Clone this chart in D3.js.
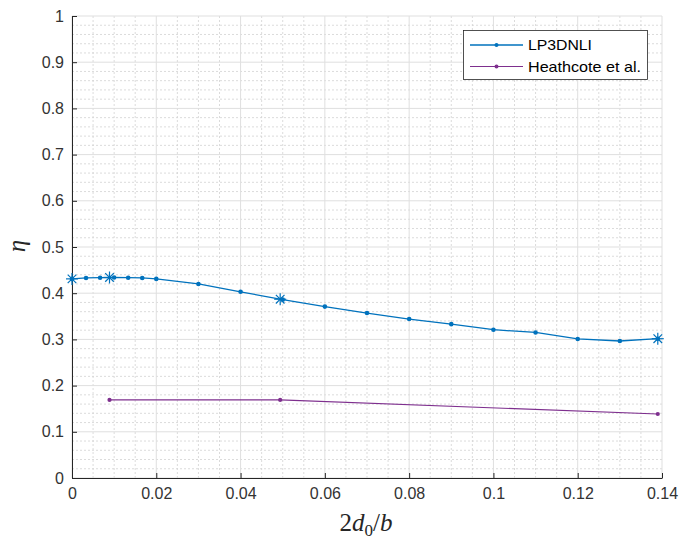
<!DOCTYPE html>
<html>
<head>
<meta charset="utf-8">
<script src="https://cdn.jsdelivr.net/npm/d3@7/dist/d3.min.js"></script>
<style>
  html, body { margin: 0; padding: 0; background: #fff; }
  svg { display: block; }
</style>
</head>
<body>
<svg id="chart" width="682" height="545"></svg>
<script>
// ---- data ----
const lpX = [0, 0.00333, 0.00667, 0.01, 0.01333, 0.01667, 0.02, 0.03, 0.04, 0.05, 0.06, 0.07, 0.08, 0.09, 0.10, 0.11, 0.12, 0.13, 0.139];
const lpY = [0.431, 0.433, 0.4335, 0.434, 0.4335, 0.433, 0.431, 0.420, 0.403, 0.386, 0.371, 0.357, 0.344, 0.333, 0.321, 0.315, 0.301, 0.2965, 0.3015];
const starX = [0, 0.0089, 0.0494, 0.139];
const starY = [0.431, 0.434, 0.387, 0.3015];
const hcX = [0.0089, 0.0494, 0.139];
const hcY = [0.169, 0.169, 0.1385];
const xTicks = [0, 0.02, 0.04, 0.06, 0.08, 0.1, 0.12, 0.14];
const xTickLabels = ["0", "0.02", "0.04", "0.06", "0.08", "0.1", "0.12", "0.14"];
const yTicks = [0, 0.1, 0.2, 0.3, 0.4, 0.5, 0.6, 0.7, 0.8, 0.9, 1];
const yTickLabels = ["0", "0.1", "0.2", "0.3", "0.4", "0.5", "0.6", "0.7", "0.8", "0.9", "1"];
const seriesNames = ["LP3DNLI", "Heathcote et al."];
const seriesColors = ["#0072BD", "#7E2F8E"];

// ---- layout ----
const svg = d3.select("#chart");
const L = 72, R = 662, T = 16, B = 478;
const x = d3.scaleLinear().domain([0, 0.14]).range([L, R]);
const y = d3.scaleLinear().domain([0, 1]).range([B, T]);
const axisColor = "#262626";

// minor grid
const xMinor = d3.range(0, 0.14 + 1e-9, 0.005).filter(v => Math.abs(v / 0.02 - Math.round(v / 0.02)) > 1e-6);
const yMinor = d3.range(0, 1 + 1e-9, 0.02).filter(v => Math.abs(v / 0.1 - Math.round(v / 0.1)) > 1e-6);
const g = svg.append("g");
g.selectAll(".xminor").data(xMinor).join("line")
  .attr("x1", d => x(d)).attr("x2", d => x(d)).attr("y1", T).attr("y2", B)
  .attr("stroke", "#d2d2d2").attr("stroke-width", 0.8).attr("stroke-dasharray", "2,2");
g.selectAll(".yminor").data(yMinor).join("line")
  .attr("y1", d => y(d)).attr("y2", d => y(d)).attr("x1", L).attr("x2", R)
  .attr("stroke", "#d2d2d2").attr("stroke-width", 0.8).attr("stroke-dasharray", "2,2");
// major grid
g.selectAll(".xmajor").data(xTicks).join("line")
  .attr("x1", d => x(d)).attr("x2", d => x(d)).attr("y1", T).attr("y2", B)
  .attr("stroke", "#dfdfdf").attr("stroke-width", 1);
g.selectAll(".ymajor").data(yTicks).join("line")
  .attr("y1", d => y(d)).attr("y2", d => y(d)).attr("x1", L).attr("x2", R)
  .attr("stroke", "#dfdfdf").attr("stroke-width", 1);

// axes
const xAxis = d3.axisBottom(x).tickValues(xTicks).tickFormat((d, i) => xTickLabels[i]).tickSizeInner(-5).tickSizeOuter(0).tickPadding(10);
const yAxis = d3.axisLeft(y).tickValues(yTicks).tickFormat((d, i) => yTickLabels[i]).tickSizeInner(-5).tickSizeOuter(0).tickPadding(8);
const gx = svg.append("g").attr("transform", `translate(0,${B})`).call(xAxis);
const gy = svg.append("g").attr("transform", `translate(${L},0)`).call(yAxis);
[gx, gy].forEach(a => {
  a.select(".domain").attr("stroke", axisColor).attr("stroke-width", 1);
  a.selectAll(".tick line").attr("stroke", axisColor).attr("stroke-width", 1);
  a.selectAll(".tick text").attr("fill", "#333").style("font-family", "'Liberation Sans', Arial, sans-serif").style("font-size", "16px");
});

// series lines
const line = d3.line().x(d => x(d[0])).y(d => y(d[1]));
const lpData = lpX.map((v, i) => [v, lpY[i]]);
const hcData = hcX.map((v, i) => [v, hcY[i]]);
svg.append("path").datum(lpData).attr("d", line).attr("fill", "none").attr("stroke", seriesColors[0]).attr("stroke-width", 1.3);
svg.append("path").datum(hcData).attr("d", line).attr("fill", "none").attr("stroke", seriesColors[1]).attr("stroke-width", 1.1);
svg.selectAll(".lpdot").data(lpData).join("circle")
  .attr("cx", d => x(d[0])).attr("cy", d => y(d[1])).attr("r", 2.3).attr("fill", seriesColors[0]);
svg.selectAll(".hcdot").data(hcData).join("circle")
  .attr("cx", d => x(d[0])).attr("cy", d => y(d[1])).attr("r", 2.1).attr("fill", seriesColors[1]);

// star markers
const starData = starX.map((v, i) => [v, starY[i]]);
const s = 6, sd = 4.3;
const starG = svg.selectAll(".star").data(starData).join("g")
  .attr("transform", d => `translate(${x(d[0])},${y(d[1])})`);
[[-s, 0, s, 0], [0, -s, 0, s], [-sd, -sd, sd, sd], [-sd, sd, sd, -sd]].forEach(c => {
  starG.append("line").attr("x1", c[0]).attr("y1", c[1]).attr("x2", c[2]).attr("y2", c[3])
    .attr("stroke", seriesColors[0]).attr("stroke-width", 1.2);
});

// axis labels
const xl = svg.append("text").attr("x", 366).attr("y", 531).attr("text-anchor", "middle")
  .style("font-family", "'Liberation Serif', 'DejaVu Serif', serif").style("font-size", "25px").attr("fill", "#262626");
xl.append("tspan").text("2");
xl.append("tspan").style("font-style", "italic").text("d");
xl.append("tspan").attr("dy", 5).style("font-size", "17px").text("0");
xl.append("tspan").attr("dy", -5).text("/");
xl.append("tspan").style("font-style", "italic").text("b");

svg.append("text").attr("transform", "translate(25,246) rotate(-90)").attr("text-anchor", "middle")
  .style("font-family", "'Liberation Serif', 'DejaVu Serif', serif").style("font-style", "italic").style("font-size", "25px")
  .attr("fill", "#262626").text("η");

// legend
const lg = svg.append("g");
lg.append("rect").attr("x", 463.5).attr("y", 30.5).attr("width", 184).attr("height", 49)
  .attr("fill", "#fff").attr("stroke", "#262626").attr("stroke-width", 0.8);
seriesNames.forEach((name, i) => {
  const cy = 45 + i * 21.5;
  lg.append("line").attr("x1", 470).attr("x2", 523).attr("y1", cy).attr("y2", cy)
    .attr("stroke", seriesColors[i]).attr("stroke-width", i === 0 ? 1.3 : 1.1);
  lg.append("circle").attr("cx", 496.5).attr("cy", cy).attr("r", 2).attr("fill", seriesColors[i]);
  lg.append("text").attr("x", 528).attr("y", cy + 5).text(name)
    .style("font-family", "'Liberation Sans', Arial, sans-serif").style("font-size", "15px").attr("fill", "#000")
    .attr("textLength", i === 0 ? 64 : 113).attr("lengthAdjust", "spacingAndGlyphs");
});
</script>
</body>
</html>
